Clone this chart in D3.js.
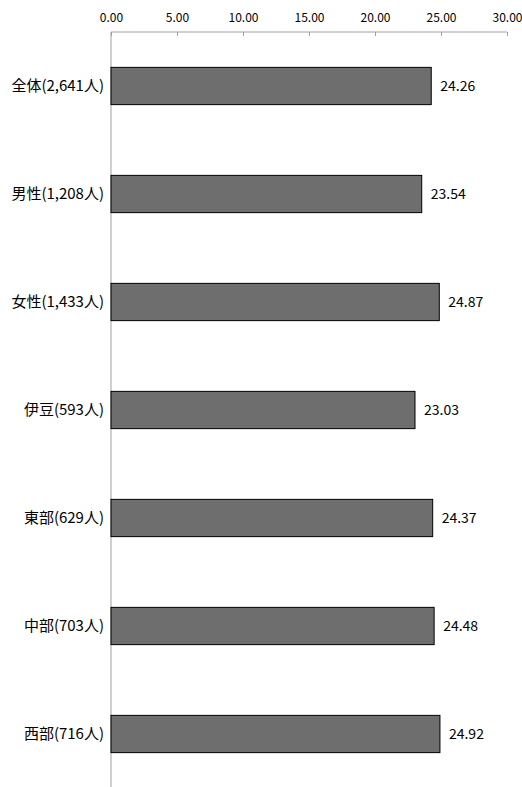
<!DOCTYPE html>
<html><head><meta charset="utf-8">
<script src="https://cdn.jsdelivr.net/npm/d3@7"></script>
<style>body{margin:0;background:#fff}svg{display:block}</style>
</head><body>
<script>
const categories = ["全体(2,641人)","男性(1,208人)","女性(1,433人)","伊豆(593人)","東部(629人)","中部(703人)","西部(716人)"];
const values = [24.26, 23.54, 24.87, 23.03, 24.37, 24.48, 24.92];
const tickValues = [0, 5, 10, 15, 20, 25, 30];

const W = 522, H = 787;
const font = "'Noto Sans CJK JP', 'Noto Sans', sans-serif";
const svg = d3.select("body").append("svg").attr("width", W).attr("height", H);

const x = d3.scaleLinear().domain([0, 30]).range([111, 507]);
const y = d3.scaleBand().domain(categories).range([32, 788]).paddingInner(0.655).paddingOuter(0.3275);

// top axis
const ax = svg.append("g").attr("transform", "translate(0,32)")
  .call(d3.axisTop(x).tickValues(tickValues).tickFormat(d3.format(".2f")).tickSize(4).tickPadding(6));
ax.selectAll("path,line").attr("stroke", "#a0a0a0").attr("stroke-width", 1);
ax.select("path").attr("d", `M${x(0)},0H${x(30)}`);
ax.selectAll("line").attr("y2", 4);
ax.selectAll("text").attr("font-family", font).attr("font-size", 12).attr("fill", "#000");

// vertical category axis line
svg.append("line").attr("x1", x(0)).attr("x2", x(0)).attr("y1", 32).attr("y2", H)
  .attr("stroke", "#a0a0a0").attr("stroke-width", 1);

// bars
svg.selectAll("rect.bar").data(values).join("rect").attr("class", "bar")
  .attr("x", x(0)).attr("y", (d, i) => y(categories[i]))
  .attr("width", d => x(d) - x(0)).attr("height", y.bandwidth())
  .attr("fill", "#6e6e6e").attr("stroke", "#000").attr("stroke-width", 1);

// value labels
svg.selectAll("text.val").data(values).join("text").attr("class", "val")
  .attr("x", d => x(d) + 9).attr("y", (d, i) => y(categories[i]) + y.bandwidth() / 2)
  .attr("dy", "0.35em").attr("font-family", font).attr("font-size", 14).attr("fill", "#000")
  .text(d => d.toFixed(2));

// category labels
svg.selectAll("text.cat").data(categories).join("text").attr("class", "cat")
  .attr("x", 104).attr("y", d => y(d) + y.bandwidth() / 2)
  .attr("dy", "0.35em").attr("text-anchor", "end")
  .attr("font-family", font).attr("font-size", 15).attr("fill", "#000")
  .text(d => d);
</script>
</body></html>
